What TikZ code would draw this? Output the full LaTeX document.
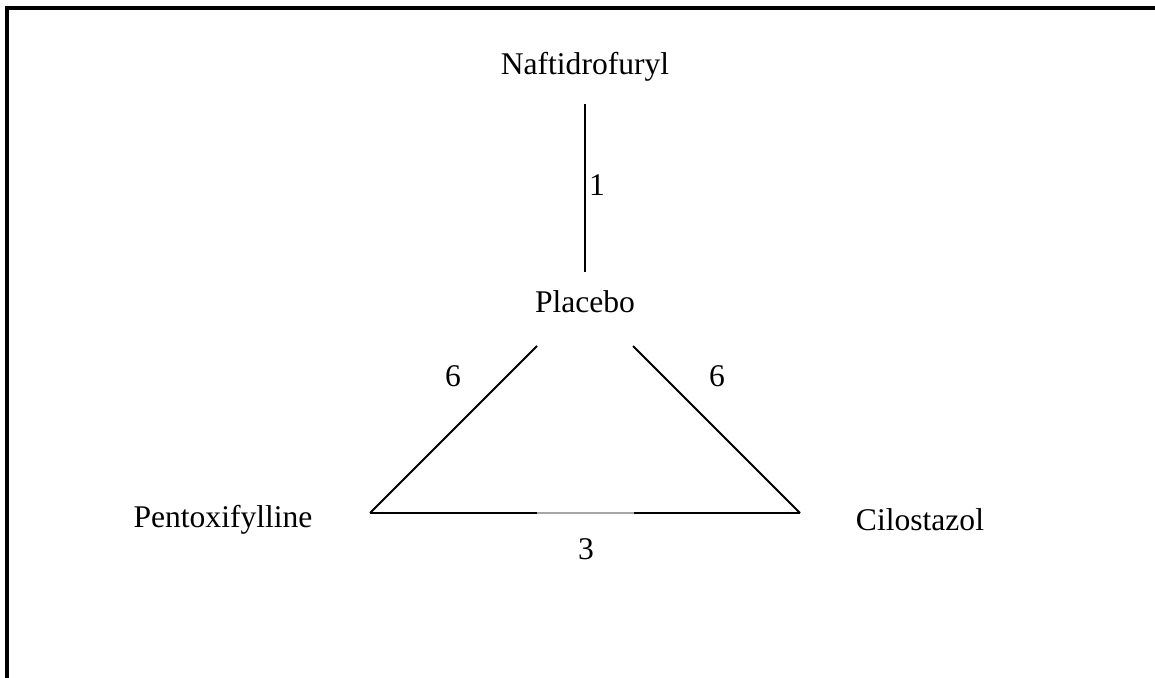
\documentclass[tikz,border=0pt]{standalone}
\usepackage{fontspec}
\setmainfont{Liberation Serif}
\begin{document}
\begin{tikzpicture}[x=0.38pt,y=-0.38pt,
  lbl/.style={font=\fontsize{12}{14}\selectfont, inner sep=0pt},
  edge/.style={line width=0.75pt, black},
  thin/.style={line width=0.4pt, gray!70}]
\useasboundingbox (0,0) rectangle (1155,678);
\begin{scope}
\clip (0,0) rectangle (1155,678);
\draw[line width=1.3pt] (7,700) -- (7,8) -- (1170,8);
\end{scope}
% treatment nodes
\node[lbl] (naf) at (585,67) {Naftidrofuryl};
\node[lbl] (pla) at (585,302) {Placebo};
\node[lbl] (pen) at (223,520) {Pentoxifylline};
\node[lbl] (cil) at (920,520) {Cilostazol};
% connector endpoints
\coordinate (nafB) at (585,104);
\coordinate (plaT) at (585,272);
\coordinate (plaL) at (537,346);
\coordinate (plaR) at (633,346);
\coordinate (penR) at (370,513);
\coordinate (cilL) at (800,513);
\coordinate (midL) at (537,513);
\coordinate (midR) at (634,513);
% connectors
\draw[edge] (nafB) -- (plaT);
\draw[edge] (plaL) -- (penR);
\draw[edge] (plaR) -- (cilL);
\draw[edge] (penR) -- (midL);
\draw[thin] (midL) -- (midR);
\draw[edge] (midR) -- (cilL);
% edge labels
\node[lbl] (l1) at (597,185) {1};
\node[lbl] (l6a) at (453,376) {6};
\node[lbl] (l6b) at (717,376) {6};
\node[lbl] (l3) at (586,549) {3};
\end{tikzpicture}
\end{document}
